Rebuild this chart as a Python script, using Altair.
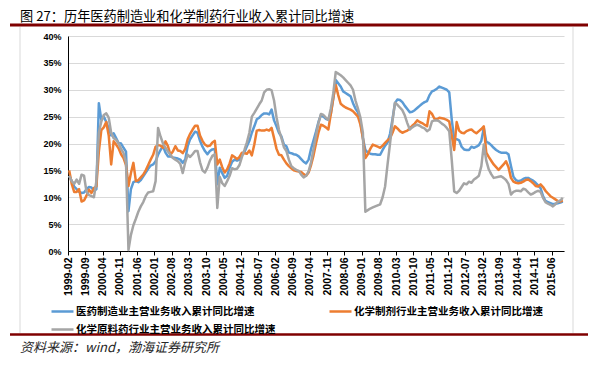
import altair as alt
import pandas as pd

title_text = "图 27：历年医药制造业和化学制药行业收入累计同比增速"
source_text = "资料来源：wind，渤海证券研究所"

series_names = [
    "医药制造业主营业务收入累计同比增速",
    "化学制剂行业主营业务收入累计同比增速",
    "化学原料药行业主营业务收入累计同比增速",
]
colors = ["#5B9BD5", "#ED7D31", "#A5A5A5"]

tick_labels = [
    "1999-02", "1999-09", "2000-04", "2000-11", "2001-06", "2002-01", "2002-08",
    "2003-03", "2003-10", "2004-05", "2004-12", "2005-07", "2006-02", "2006-09",
    "2007-04", "2007-11", "2008-06", "2009-01", "2009-08", "2010-03", "2010-10",
    "2011-05", "2011-12", "2012-07", "2013-02", "2013-09", "2014-04", "2014-11",
    "2015-06",
]

# 医药制造业 (monthly, 1999-02 .. 2015-10)
pharma = [
    14.0, 13.0, 12.0, 11.5, 11.0, 10.8, 10.9, 11.5, 11.9, 11.8,
    11.2, 11.5, 27.5, 24.4, 25.0, 24.0, 22.8, 21.5, 21.9, 21.0,
    20.1, 20.0, 19.2, 18.5, 7.4, 11.5, 12.8, 13.0, 12.8, 13.2,
    13.9, 14.6, 15.3, 15.9, 16.1, 16.7, 17.9, 18.8, 19.5, 18.3,
    17.6, 17.6, 17.4, 17.3, 17.2, 17.0, 16.4, 17.0, 19.5, 20.8,
    21.5, 22.2, 22.0, 20.5, 19.4, 18.6, 18.0, 18.6, 18.9, 19.0,
    12.4, 15.5, 14.5, 13.6, 14.0, 15.5, 16.6, 17.0, 16.8, 17.0,
    17.8, 18.4, 19.5, 20.5, 22.0, 23.2, 24.5, 24.8, 25.3, 25.6,
    25.6, 25.4, 26.3, 24.3, 23.2, 22.0, 21.3, 19.8, 19.5, 18.3,
    18.2, 18.0, 17.9, 17.6, 17.1, 16.6, 16.3, 17.0, 19.0, 20.6,
    22.2, 24.0, 25.3, 25.0, 24.6, 24.4, 25.5, 28.3, 31.8, 31.2,
    30.6, 29.7, 29.4, 29.1, 28.8, 27.5, 26.5, 25.8, 24.0, 21.0,
    18.8, 18.3, 18.1, 18.0, 18.0, 17.9, 17.9, 18.8, 19.6, 20.2,
    21.8, 24.5, 27.5, 28.2, 28.1, 27.7, 27.0, 26.4, 25.8, 25.9,
    26.2, 26.6, 27.0, 27.4, 27.7, 27.9, 29.0, 29.7, 29.9, 30.2,
    30.6, 30.4, 30.2, 30.0, 29.5, 24.5, 20.8, 20.8, 20.6, 19.4,
    18.9, 18.8, 18.8, 19.4, 19.2, 19.4, 19.7, 20.5, 22.9, 20.3,
    20.1, 19.7, 19.2, 18.8, 18.5, 18.3, 18.3, 18.3, 18.0, 15.8,
    13.8, 13.2, 13.0, 13.1, 13.4, 13.6, 13.6, 13.3, 13.1, 12.7,
    12.2, 11.7, 10.2, 9.3, 9.1, 8.9, 8.7, 8.8, 8.9, 9.0,
    9.2,
]

# 化学制剂
chem_prep = [
    15.0, 12.5, 11.0, 11.0, 11.5, 9.2, 9.4, 10.3, 11.4, 10.8,
    11.7, 12.0, 18.5, 22.5, 23.0, 24.0, 21.5, 16.1, 20.4, 19.8,
    19.1, 18.0, 17.3, 16.0, 12.1, 14.5, 16.4, 13.0, 13.2, 13.7,
    14.2, 15.0, 16.0, 17.0, 17.9, 19.4, 19.7, 19.6, 19.2, 20.4,
    19.5, 17.9, 18.5, 19.5, 18.7, 18.6, 18.2, 19.0, 20.8, 21.8,
    22.6, 23.3, 23.3, 21.5, 20.5, 19.8, 19.5, 19.6, 20.2, 20.5,
    16.1, 17.0, 15.6, 14.6, 15.2, 16.3, 17.8, 17.5, 17.1, 17.5,
    18.3, 18.2, 18.1, 18.7, 17.8, 19.8, 22.4, 22.5, 22.4, 22.4,
    22.6, 22.4, 22.9, 21.0, 19.0, 17.9, 17.8, 17.0, 16.3, 15.8,
    15.4, 15.0, 14.9, 14.8, 14.7, 14.3, 14.0, 14.6, 16.0, 17.8,
    20.0, 22.0, 23.5, 23.3, 23.0, 22.6, 25.5, 28.5, 30.9, 29.0,
    27.4, 27.0, 26.7, 26.5, 26.3, 26.0, 25.5, 25.0, 23.5, 21.0,
    17.3, 18.0, 19.0, 19.8, 19.6, 19.4, 19.2, 19.6, 20.1, 20.6,
    21.0, 22.0, 23.2, 22.8, 22.3, 22.0, 22.2, 22.4, 22.8, 23.3,
    23.7, 24.3, 24.0, 23.8, 23.5, 23.2, 26.0, 25.5, 24.6, 24.5,
    24.8, 24.7, 24.6, 24.4, 24.1, 21.5, 18.8, 24.0, 22.4, 22.0,
    21.9, 22.3, 22.5, 22.6, 22.2, 21.9, 22.3, 22.7, 23.2, 18.3,
    17.5, 16.8, 16.1, 15.6, 15.1, 15.6, 16.1, 16.7, 15.6, 13.6,
    12.9, 12.7, 12.6, 12.7, 12.9, 13.2, 13.3, 13.0, 12.6, 12.1,
    12.0, 12.4, 11.9, 11.2, 10.7, 10.2, 9.9, 9.6, 9.3, 9.2,
    9.4,
]

# 化学原料药
chem_api = [
    14.0, 13.0, 12.5, 13.3, 12.5, 14.2, 14.0, 11.0, 10.4, 10.2,
    10.0, 13.0, 22.0, 24.1, 25.3, 25.6, 24.8, 22.0, 21.0, 20.7,
    20.0, 19.0, 18.2, 16.5, 0.2, 3.0, 4.8, 6.0, 7.3, 8.3,
    9.1, 10.2, 10.9, 11.0, 11.1, 13.0, 22.9, 21.3, 20.0, 19.2,
    18.5, 17.9, 17.3, 17.0, 16.7, 16.2, 14.5, 16.5, 17.9, 17.5,
    18.0, 18.6, 18.6, 16.5, 15.0, 14.6, 15.5, 16.8, 17.7, 18.0,
    8.0, 13.8, 12.6, 12.1, 13.0, 14.0, 15.4, 15.2, 15.3, 16.0,
    17.5, 18.8, 20.2, 22.0, 25.0, 25.7, 26.5, 27.3, 28.0, 29.5,
    30.0, 30.1, 29.9, 28.0, 24.9, 22.5, 21.0, 19.3, 18.6, 17.0,
    15.8, 15.4, 15.1, 14.9, 14.2, 13.7, 14.0, 14.8, 16.5, 19.0,
    21.5, 23.8, 25.5, 25.3, 24.8, 24.4, 26.5, 29.3, 33.3, 33.0,
    32.7, 32.3, 31.8, 31.3, 30.8, 30.0, 28.0, 26.5, 24.8, 22.0,
    7.3, 7.6, 7.9, 8.1, 8.3, 8.5, 8.7, 10.0, 12.0, 16.1,
    20.0, 24.2, 27.6, 27.2, 26.7, 26.2, 25.2, 23.8, 22.6, 23.0,
    23.3, 23.5, 23.3, 23.0, 22.8, 22.3, 22.6, 24.1, 24.3, 24.3,
    24.1, 23.7, 23.4, 22.9, 22.3, 17.0, 11.1, 10.8, 11.2, 11.9,
    12.6, 12.4, 12.9, 12.7, 13.3, 13.6, 14.0, 15.8, 19.8, 16.8,
    15.2, 14.3, 13.6, 13.7, 13.8, 13.9, 13.6, 13.2, 12.5, 10.5,
    11.0, 11.2, 11.2, 11.1, 11.6, 11.4, 10.9, 10.5, 10.7, 11.0,
    11.2, 11.0, 9.9, 9.1, 8.8, 8.6, 8.3, 8.7, 9.2, 9.4,
    9.9,
]

n = len(pharma)
months = pd.date_range("1999-02-01", periods=n, freq="MS").strftime("%Y-%m")
rows = []
for si, (name, vals) in enumerate(zip(series_names, [pharma, chem_prep, chem_api])):
    for i, v in enumerate(vals):
        rows.append({"pos": i + 0.5, "month": months[i], "value": v,
                     "series": name, "ord": si})
df = pd.DataFrame(rows)

W, H = 496, 215
tick_values = [7 * i for i in range(len(tick_labels))]
label_expr = "[" + ",".join('"%s"' % t for t in tick_labels) + "][round(datum.value / 7)]"

num_font = "Liberation Sans"
cjk_font = "Noto Sans CJK SC"

lines = alt.Chart(df).mark_line(strokeWidth=2.5, strokeJoin="round").encode(
    x=alt.X("pos:Q",
            scale=alt.Scale(domain=[0, n], nice=False, zero=False),
            axis=alt.Axis(values=tick_values, labelExpr=label_expr, labelAngle=270,
                          labelFont=num_font, labelFontSize=10.5, labelFontWeight="bold",
                          labelColor="#000000", labelPadding=2, labelOverlap=False,
                          tickColor="#000000", tickSize=4, domainColor="#000000",
                          domainWidth=1, grid=False, title=None)),
    y=alt.Y("value:Q",
            scale=alt.Scale(domain=[0, 40], nice=False, zero=True),
            axis=alt.Axis(values=[0, 5, 10, 15, 20, 25, 30, 35, 40],
                          labelExpr="datum.value + '%'",
                          labelFont=num_font, labelFontSize=9, labelFontWeight="bold",
                          labelColor="#000000", labelPadding=7, ticks=False,
                          domainColor="#000000", domainWidth=1,
                          grid=True, gridColor="#D9D9D9", gridWidth=1, title=None)),
    color=alt.Color("series:N",
                    scale=alt.Scale(domain=series_names, range=colors),
                    legend=alt.Legend(orient="none", legendX=-18, legendY=263,
                                      direction="horizontal", columns=2,
                                      columnPadding=48, rowPadding=-6,
                                      title=None, symbolType="stroke",
                                      symbolStrokeWidth=2.5, symbolSize=484,
                                      labelFont=cjk_font, labelFontSize=10.5,
                                      labelFontWeight="bold", labelColor="#000000",
                                      labelLimit=400, labelOffset=1)),
    order=alt.Order("ord:Q"),
    detail="series:N",
)

title_mark = alt.Chart(pd.DataFrame({"t": [title_text]})).mark_text(
    align="left", baseline="middle", font=cjk_font, fontSize=13.2,
    fontWeight="normal", color="#000000"
).encode(text="t:N", x=alt.value(-48), y=alt.value(-19.5))

source_mark = alt.Chart(pd.DataFrame({"t": [source_text]})).mark_text(
    align="left", baseline="middle", font=cjk_font, fontSize=13,
    fontStyle="italic", color="#262626"
).encode(text="t:N", x=alt.value(-48), y=alt.value(312))

top_rule = alt.Chart(pd.DataFrame({"a": [0]})).mark_rule(
    color="#7F0000", strokeWidth=3
).encode(x=alt.value(-58), x2=alt.value(520), y=alt.value(-11))

bottom_rule = alt.Chart(pd.DataFrame({"a": [0]})).mark_rule(
    color="#7F0000", strokeWidth=2.5
).encode(x=alt.value(-58), x2=alt.value(520), y=alt.value(298.5))

frame_left = alt.Chart(pd.DataFrame({"a": [0]})).mark_rule(
    color="#D9D9D9", strokeWidth=1
).encode(x=alt.value(-48), y=alt.value(-9), y2=alt.value(297))

frame_right = alt.Chart(pd.DataFrame({"a": [0]})).mark_rule(
    color="#D9D9D9", strokeWidth=1
).encode(x=alt.value(505), y=alt.value(-9), y2=alt.value(297))

chart = alt.layer(
    frame_left, frame_right, lines, title_mark, source_mark, top_rule, bottom_rule
).properties(
    width=W, height=H, autosize="none",
    padding={"left": 60, "top": 28, "right": 26, "bottom": 107},
    background="#FFFFFF",
).configure_view(stroke=None)

chart.save("out.html", embed_options={"renderer": "svg", "actions": False})
